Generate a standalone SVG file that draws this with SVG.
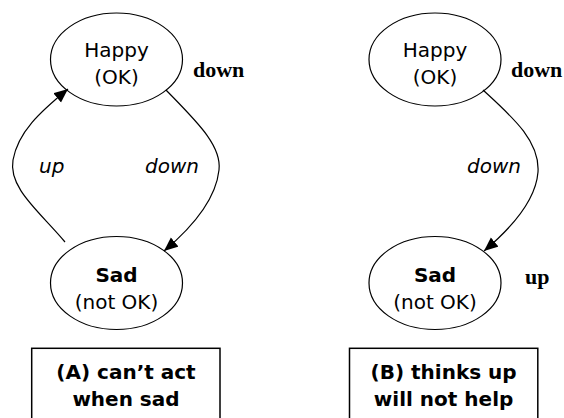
<svg xmlns="http://www.w3.org/2000/svg" width="564" height="418" viewBox="0 0 564 418">
<style>
.node{fill:#fff;stroke:#000;stroke-width:1.2}
.box{fill:#fff;stroke:#000;stroke-width:1.5}
.t{font-family:"DejaVu Sans",Verdana,sans-serif;font-size:20px;fill:#000;text-anchor:middle}
.b{font-weight:bold}
.i{font-family:"DejaVu Sans",Verdana,sans-serif;font-size:20px;font-style:italic;fill:#000}
.s{font-family:"Liberation Serif","Times New Roman",serif;font-size:22px;font-weight:bold;fill:#000}
.edge{fill:none;stroke:#000;stroke-width:1.2}
</style>
<defs>
<marker id="arr" markerUnits="userSpaceOnUse" markerWidth="16" markerHeight="14" refX="14" refY="6" orient="auto">
<path d="M0,0 L14,6 L0,12 z" fill="#000"/>
</marker>
</defs>
<g id="happyA">
<ellipse class="node" cx="116.5" cy="59.5" rx="66" ry="46.5"/>
<text class="t" x="116.5" y="57">Happy</text>
<text class="t" x="116.5" y="84">(OK)</text>
</g>
<g id="sadA">
<ellipse class="node" cx="116.5" cy="283" rx="66" ry="46.5"/>
<text class="t b" x="116.5" y="282">Sad</text>
<text class="t" x="116.5" y="309">(not OK)</text>
</g>
<g id="happyB">
<ellipse class="node" cx="435" cy="59.5" rx="66" ry="46.5"/>
<text class="t" x="435" y="57">Happy</text>
<text class="t" x="435" y="84">(OK)</text>
</g>
<g id="sadB">
<ellipse class="node" cx="435" cy="283" rx="66" ry="46.5"/>
<text class="t b" x="435" y="282">Sad</text>
<text class="t" x="435" y="309">(not OK)</text>
</g>
<g id="connectors">
<path class="edge" d="M65,242 C40,212 8,188 13,160 C18,132 40,112 68,89" marker-end="url(#arr)"/>
<path class="edge" d="M166,90 C195,120 222,145 219,170 C216,198 195,225 164,251" marker-end="url(#arr)"/>
<path class="edge" d="M483,90 C510,115 540,140 538,172 C536,198 515,225 484,251" marker-end="url(#arr)"/>
</g>
<g id="labels">
<text class="i" x="39" y="173">up</text>
<text class="i" x="145" y="173">down</text>
<text class="i" x="467" y="173">down</text>
<text class="s" x="193" y="77">down</text>
<text class="s" x="511" y="77">down</text>
<text class="s" x="525" y="284">up</text>
</g>
<g id="boxA">
<rect class="box" x="31.7" y="348.3" width="188.3" height="80"/>
<text class="t b" x="126" y="379">(A) can’t act</text>
<text class="t b" x="126" y="406">when sad</text>
</g>
<g id="boxB">
<rect class="box" x="349.5" y="348.3" width="188.3" height="80"/>
<text class="t b" x="443.6" y="379">(B) thinks up</text>
<text class="t b" x="443.6" y="406">will not help</text>
</g>
</svg>
